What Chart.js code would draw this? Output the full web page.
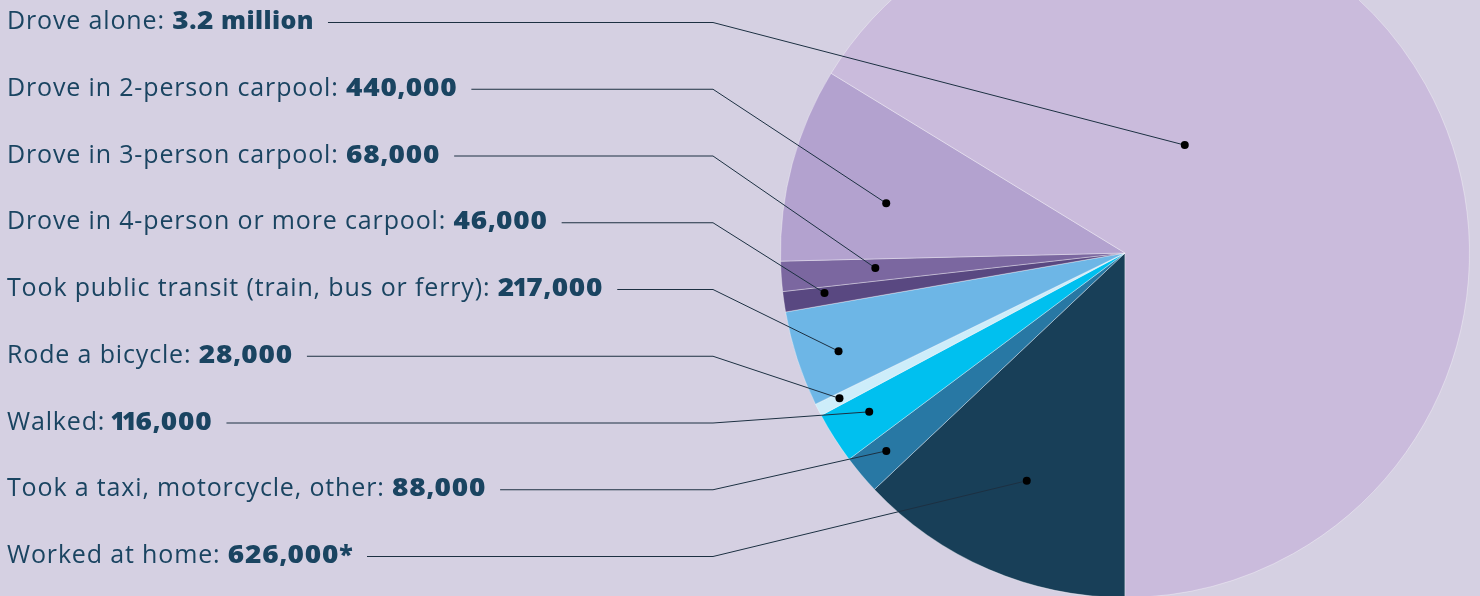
<!DOCTYPE html>
<html>
<head>
<meta charset="utf-8">
<script src="https://cdn.jsdelivr.net/npm/chart.js@4.4.1/dist/chart.umd.min.js"></script>
<style>
  html, body { margin: 0; padding: 0; background: #D5D0E2; overflow: hidden; width: 1480px; height: 596px; }
  #wrap { position: absolute; left: 0; top: -92px; width: 1480px; height: 690px; }
</style>
</head>
<body>
<div id="wrap"><canvas id="c" width="1480" height="690"></canvas></div>
<script>
// ---- data (listed order, top to bottom) ----
const categories = [
  "Drove alone",
  "Drove in 2-person carpool",
  "Drove in 3-person carpool",
  "Drove in 4-person or more carpool",
  "Took public transit (train, bus or ferry)",
  "Rode a bicycle",
  "Walked",
  "Took a taxi, motorcycle, other",
  "Worked at home"
];
const values = [3200000, 440000, 68000, 46000, 217000, 28000, 116000, 88000, 626000];
const valueLabels = ["3.2 million", "440,000", "68,000", "46,000", "217,000", "28,000", "116,000", "88,000", "626,000*"];

// ---- styles ----
const colors = ["#CABBDC", "#B3A2CF", "#7B67A0", "#594881", "#6DB6E6", "#CDEDFA", "#00C0EF", "#2878A4", "#183F58"];
// dot anchor inside each slice: fraction along the slice's angle, fraction of radius
const anchors = [
  {t: 0.367, r: 0.358},
  {t: 0.40,  r: 0.708},
  {t: 0.59,  r: 0.726},
  {t: 0.66,  r: 0.88},
  {t: 0.44,  r: 0.879},
  {t: 0.55,  r: 0.93},
  {t: 0.57,  r: 0.874},
  {t: 0.56,  r: 0.90},
  {t: 0.50,  r: 0.72}
];
const TOP_OFFSET = 92;
const ROW0 = 22, ROW_STEP = 66.75, TEXT_X = 7, ELBOW_X = 713;
const FONT_SIZE = 25;
const FAMILY = "'Open Sans', Lato, sans-serif";

// chart draws clockwise starting at 6 o'clock: reverse order so the wedges run as in the picture
const order = [8, 7, 6, 5, 4, 3, 2, 1, 0];
const chartLabels = order.map(i => categories[i]);
const chartValues = order.map(i => values[i]);
const chartColors = order.map(i => colors[i]);

// bold figures: widen digits, tighten the tabular "1" (proportional-figure look)
function drawValue(ctx, str, x, y) {
  for (const ch of str) {
    const w = ctx.measureText(ch).width;
    if (ch === '1') {
      ctx.fillText(ch, x - 2, y);
      x += w - 4 + 0.8;
    } else if (ch >= '0' && ch <= '9') {
      ctx.save();
      ctx.translate(x, y);
      ctx.scale(1.12, 1);
      ctx.fillText(ch, 0, 0);
      ctx.restore();
      x += w * 1.12 + 0.8;
    } else {
      ctx.fillText(ch, x, y);
      x += w + 0.4;
    }
  }
  return x;
}

const leaderPlugin = {
  id: 'leaders',
  afterDatasetsDraw(chart) {
    const ctx = chart.ctx;
    const meta = chart.getDatasetMeta(0);
    ctx.save();
    categories.forEach((cat, i) => {
      const arc = meta.data[order.indexOf(i)];
      const p = arc.getProps(['x', 'y', 'startAngle', 'endAngle', 'outerRadius'], true);
      const a = p.startAngle + anchors[i].t * (p.endAngle - p.startAngle);
      const dx = p.x + Math.cos(a) * p.outerRadius * anchors[i].r;
      const dy = p.y + Math.sin(a) * p.outerRadius * anchors[i].r;
      const y = ROW0 + i * ROW_STEP + TOP_OFFSET;
      // text
      ctx.textBaseline = 'middle';
      ctx.textAlign = 'left';
      ctx.fillStyle = '#1A4461';
      ctx.letterSpacing = '0.85px';
      ctx.font = `400 ${FONT_SIZE}px ${FAMILY}`;
      const t1 = cat + ':';
      ctx.fillText(t1, TEXT_X, y);
      let x = TEXT_X + ctx.measureText(t1 + ' ').width;
      ctx.letterSpacing = '0px';
      ctx.font = `800 ${FONT_SIZE}px ${FAMILY}`;
      x = drawValue(ctx, valueLabels[i], x, y);
      // leader
      ctx.strokeStyle = '#1C3042';
      ctx.lineWidth = 1;
      ctx.beginPath();
      ctx.moveTo(x + 14, y + 0.5);
      ctx.lineTo(ELBOW_X, y + 0.5);
      ctx.lineTo(dx, dy);
      ctx.stroke();
      ctx.fillStyle = '#000';
      ctx.beginPath();
      ctx.arc(dx, dy, 4, 0, Math.PI * 2);
      ctx.fill();
    });
    ctx.restore();
  }
};

new Chart(document.getElementById('c'), {
  type: 'pie',
  data: {
    labels: chartLabels,
    datasets: [{
      data: chartValues,
      backgroundColor: chartColors,
      borderColor: 'rgba(255,255,255,0.35)',
      borderWidth: 1
    }]
  },
  options: {
    responsive: false,
    animation: false,
    rotation: 180,
    layout: { padding: { left: 780, right: 10, top: 0, bottom: 0 } },
    plugins: { legend: { display: false }, tooltip: { enabled: false } }
  },
  plugins: [leaderPlugin]
});
</script>
</body>
</html>
